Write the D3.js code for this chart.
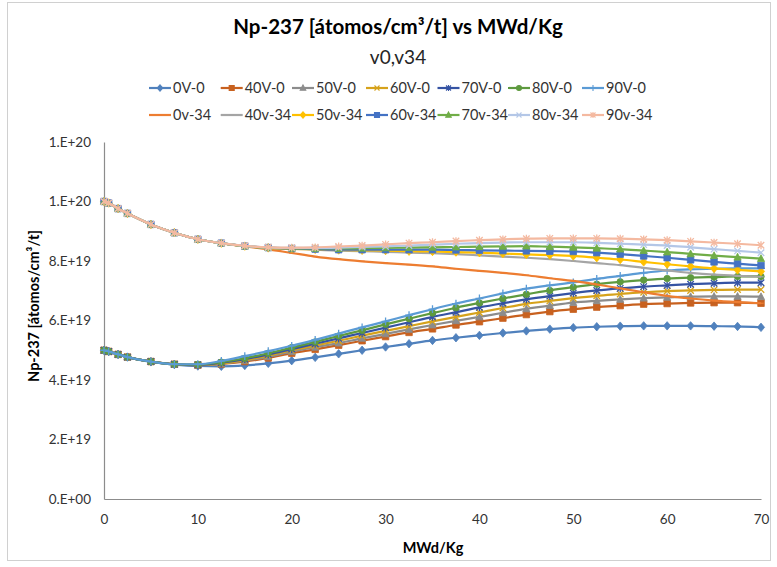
<!DOCTYPE html>
<html><head><meta charset="utf-8">
<script src="https://cdn.jsdelivr.net/npm/d3@7"></script>
<style>body{margin:0;background:#fff}svg{display:block}text{font-family:Lato,"Open Sans",sans-serif}</style>
</head><body><svg id="c" width="777" height="567"></svg>
<script>
// ---- data (values in units of 1e19 atoms/cm3/t) ----
const UNIT = 1e19;
const burnup = [0,0.5,1.5,2.5,5,7.5,10,12.5,15,17.5,20,22.5,25,27.5,30,32.5,35,37.5,40,42.5,45,47.5,50,52.5,55,57.5,60,62.5,65,67.5,70];
const seriesNames = ["0V-0","40V-0","50V-0","60V-0","70V-0","80V-0","90V-0","0v-34","40v-34","50v-34","60v-34","70v-34","80v-34","90v-34"];
const s0V0  = [5.00,4.96,4.86,4.77,4.61,4.52,4.47,4.46,4.49,4.56,4.65,4.76,4.88,5.00,5.11,5.22,5.33,5.42,5.50,5.58,5.65,5.71,5.76,5.79,5.81,5.82,5.82,5.82,5.81,5.80,5.77];
const s40V0 = [5.00,4.96,4.86,4.77,4.62,4.53,4.50,4.54,4.62,4.74,4.90,5.03,5.17,5.32,5.46,5.60,5.72,5.85,5.96,6.08,6.20,6.30,6.38,6.45,6.50,6.55,6.57,6.59,6.60,6.60,6.58];
const s50V0 = [5.00,4.96,4.86,4.77,4.62,4.53,4.50,4.55,4.65,4.78,4.95,5.10,5.24,5.40,5.55,5.70,5.85,5.99,6.12,6.26,6.39,6.50,6.60,6.66,6.71,6.75,6.78,6.80,6.81,6.81,6.80];
const s60V0 = [5.00,4.96,4.86,4.77,4.62,4.53,4.51,4.56,4.67,4.82,5.00,5.16,5.32,5.49,5.65,5.81,5.97,6.12,6.27,6.42,6.56,6.66,6.75,6.83,6.89,6.95,6.99,7.01,7.03,7.04,7.04];
const s70V0 = [5.00,4.96,4.86,4.77,4.62,4.53,4.51,4.58,4.70,4.86,5.04,5.22,5.40,5.58,5.76,5.94,6.12,6.28,6.44,6.58,6.71,6.82,6.92,7.01,7.08,7.14,7.18,7.22,7.25,7.27,7.27];
const s80V0 = [5.00,4.96,4.86,4.77,4.62,4.53,4.52,4.60,4.73,4.90,5.09,5.28,5.48,5.67,5.87,6.06,6.25,6.43,6.59,6.74,6.88,7.01,7.12,7.22,7.30,7.36,7.41,7.44,7.46,7.48,7.48];
const s90V0 = [5.00,4.96,4.86,4.77,4.62,4.53,4.53,4.64,4.80,4.97,5.15,5.35,5.56,5.77,5.97,6.18,6.38,6.57,6.74,6.91,7.07,7.18,7.28,7.40,7.50,7.60,7.68,7.72,7.74,7.75,7.75];
const s0v34 = [10.00,9.95,9.76,9.60,9.23,8.95,8.73,8.60,8.49,8.39,8.27,8.15,8.06,7.99,7.93,7.88,7.82,7.74,7.67,7.60,7.52,7.42,7.33,7.21,7.08,6.95,6.83,6.74,6.67,6.62,6.58];
const s40v34= [10.00,9.95,9.76,9.60,9.23,8.95,8.73,8.60,8.50,8.44,8.41,8.38,8.35,8.33,8.31,8.28,8.26,8.23,8.19,8.15,8.11,8.06,8.00,7.93,7.86,7.77,7.68,7.60,7.54,7.50,7.47];
const s50v34= [10.00,9.95,9.76,9.60,9.23,8.95,8.73,8.60,8.50,8.44,8.41,8.39,8.37,8.36,8.35,8.33,8.32,8.30,8.28,8.25,8.22,8.20,8.17,8.11,8.05,7.97,7.89,7.82,7.75,7.70,7.65];
const s60v34= [10.00,9.95,9.76,9.60,9.23,8.95,8.73,8.60,8.50,8.45,8.42,8.40,8.38,8.38,8.38,8.38,8.38,8.37,8.36,8.35,8.34,8.33,8.32,8.28,8.23,8.17,8.11,8.04,7.97,7.91,7.85];
const s70v34= [10.00,9.95,9.76,9.60,9.23,8.95,8.73,8.60,8.50,8.45,8.43,8.42,8.42,8.43,8.44,8.45,8.46,8.47,8.48,8.49,8.50,8.48,8.46,8.43,8.40,8.35,8.30,8.24,8.18,8.13,8.08];
const s80v34= [10.00,9.95,9.76,9.60,9.23,8.95,8.73,8.60,8.51,8.46,8.44,8.44,8.45,8.47,8.49,8.52,8.55,8.58,8.60,8.62,8.63,8.63,8.63,8.61,8.58,8.55,8.52,8.46,8.40,8.34,8.28];
const s90v34= [10.00,9.95,9.76,9.60,9.23,8.95,8.73,8.60,8.51,8.46,8.45,8.46,8.49,8.52,8.56,8.60,8.63,8.67,8.70,8.73,8.75,8.76,8.76,8.76,8.75,8.73,8.70,8.66,8.62,8.58,8.53];
const allValues = [s0V0,s40V0,s50V0,s60V0,s70V0,s80V0,s90V0,s0v34,s40v34,s50v34,s60v34,s70v34,s80v34,s90v34];
const xTicks = [0,10,20,30,40,50,60,70];
const yTicks = [0,2e19,4e19,6e19,8e19,1e20,1.2e20];
const yTickLabels = ["0.E+00","2.E+19","4.E+19","6.E+19","8.E+19","1.E+20","1.E+20"];

// ---- styles ----
const colors = ["#5081BD","#C8611F","#8C8C8C","#D6A21B","#3553A3","#5E9A3F","#5B9BD5","#ED7D31","#A5A5A5","#FFC000","#4472C4","#70AD47","#B4C7E7","#F4B9A0"];
const markers = ["diamond","square","triangle","x","star","circle","plus","dash","dash","diamond","square","triangle","x","star"];

const svg = d3.select("#c");
svg.append("rect").attr("x",7.5).attr("y",2.5).attr("width",763).attr("height",558).attr("fill","#fff").attr("stroke","#d0d0d0");

const x = d3.scaleLinear().domain([0,70]).range([104,761]);
const y = d3.scaleLinear().domain([0,1.2e20]).range([499,142]);

// title
svg.append("text").attr("x",398).attr("y",34).attr("text-anchor","middle").attr("font-size",20.5).attr("font-weight","bold").attr("fill","#000").text("Np-237 [átomos/cm³/t] vs MWd/Kg");
svg.append("text").attr("x",398).attr("y",64).attr("text-anchor","middle").attr("font-size",19).attr("fill","#262626").text("v0,v34");

// axes
const gx = svg.append("g").attr("transform","translate(0,499)").call(d3.axisBottom(x).tickValues(xTicks).tickSize(0).tickPadding(15).tickFormat(d3.format("d")));
const gy = svg.append("g").attr("transform","translate(104,0)").call(d3.axisLeft(y).tickValues(yTicks).tickSize(0).tickPadding(13).tickFormat((d,i)=>yTickLabels[i]));
[gx,gy].forEach(g=>{g.select(".domain").attr("stroke","#8c8c8c").attr("stroke-width",1.2);g.selectAll("text").attr("font-size",13.5).attr("fill","#333").attr("font-family","Lato,'Open Sans',sans-serif");});
gx.selectAll("text").attr("dy","0.71em");

svg.append("text").attr("x",433).attr("y",553).attr("text-anchor","middle").attr("font-size",14.5).attr("font-weight","bold").text("MWd/Kg");
svg.append("text").attr("transform","translate(39,306) rotate(-90)").attr("text-anchor","middle").attr("font-size",14.5).attr("font-weight","bold").text("Np-237 [átomos/cm³/t]");

function markerPath(type, s){
  const h=s/2;
  switch(type){
    case "diamond": return `M0,${-h*1.3}L${h*1.1},0L0,${h*1.3}L${-h*1.1},0Z`;
    case "square": return `M${-h},${-h}H${h}V${h}H${-h}Z`;
    case "triangle": return `M0,${-h*1.2}L${h*1.1},${h*0.9}L${-h*1.1},${h*0.9}Z`;
    case "circle": return d3.arc()({innerRadius:0,outerRadius:h,startAngle:0,endAngle:2*Math.PI});
    case "x": return `M${-h},${-h}L${h},${h}M${-h},${h}L${h},${-h}`;
    case "plus": return `M${-h*1.2},0H${h*1.2}M0,${-h*1.2}V${h*1.2}`;
    case "star": return `M${-h},${-h}L${h},${h}M${-h},${h}L${h},${-h}M0,${-h*1.2}V${h*1.2}`;
    case "dash": return `M${-h*0.8},0H${h*0.8}`;
  }
}
const filled = t => ["diamond","square","triangle","circle"].includes(t);

const line = d3.line().x(d=>x(d[0])).y(d=>y(d[1]*UNIT)).curve(d3.curveMonotoneX);

const plot = svg.append("g");
allValues.forEach((vals,i)=>{
  const pts = burnup.map((b,j)=>[b,vals[j]]);
  const g = plot.append("g");
  g.append("path").attr("d",line(pts)).attr("fill","none").attr("stroke",colors[i]).attr("stroke-width",2.2);
  const m = markers[i];
  g.selectAll("path.m").data(pts).join("path").attr("class","m")
    .attr("transform",d=>`translate(${x(d[0])},${y(d[1]*UNIT)})`)
    .attr("d",markerPath(m,6.5))
    .attr("fill",filled(m)?colors[i]:"none")
    .attr("stroke",colors[i]).attr("stroke-width",filled(m)?0.8:1.3);
});

// legend
const colX = [149,220.7,292,366,437.5,508,582];
const rowY = [88,115];
seriesNames.forEach((n,i)=>{
  const r = i<7?0:1, c = i%7;
  const g = svg.append("g").attr("transform",`translate(${colX[c]},${rowY[r]})`);
  g.append("line").attr("x1",0).attr("x2",22).attr("stroke",colors[i]).attr("stroke-width",2.2);
  g.append("path").attr("transform","translate(11,0)").attr("d",markerPath(markers[i],5))
    .attr("fill",filled(markers[i])?colors[i]:"none").attr("stroke",colors[i]).attr("stroke-width",1.1);
  g.append("text").attr("x",24).attr("y",5).attr("font-size",14.5).attr("fill","#333").text(n);
});
</script></body></html>
